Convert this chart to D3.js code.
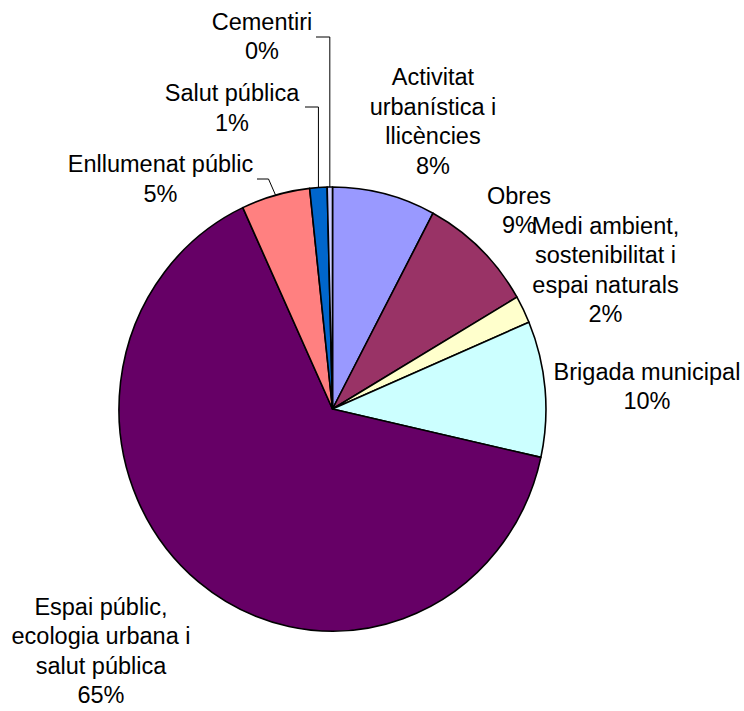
<!DOCTYPE html>
<html>
<head>
<meta charset="utf-8">
<script src="https://cdn.jsdelivr.net/npm/d3@7"></script>
<style>
  body { margin: 0; background: #fff; }
  svg text { font-family: "Liberation Sans", Arial, sans-serif; font-size: 23.5px; fill: #000; }
</style>
</head>
<body>
<svg width="744" height="711"></svg>
<script>
// data (percent of total)
var categories = ["Activitat urbanística i llicències", "Obres",
                  "Medi ambient, sostenibilitat i espai naturals", "Brigada municipal",
                  "Espai públic, ecologia urbana i salut pública", "Enllumenat públic",
                  "Salut pública", "Cementiri"];
var values = [7.8, 8.8, 2.0, 9.9, 64.6, 5.2, 1.3, 0.4];
var colors = ["#9999FF", "#993366", "#FFFFCC", "#CCFFFF", "#660066", "#FF8080", "#0066CC", "#CCCCFF"];

// how each label is wrapped into lines (last line is the percentage)
var labelLines = [
  ["Activitat", "urbanística i", "llicències"],
  ["Obres"],
  ["Medi ambient,", "sostenibilitat i", "espai naturals"],
  ["Brigada municipal"],
  ["Espai públic,", "ecologia urbana i", "salut pública"],
  ["Enllumenat públic"],
  ["Salut pública"],
  ["Cementiri"]
];

// layout: label centre x / first baseline y, and leader start (null = no leader)
var labelAt = [[433, 85], [519, 203.5], [605.5, 233.5], [647, 379.5],
               [101, 614.5], [160.5, 172], [232, 101], [262, 29.5]];
var leaderFrom = [null, null, null, null, null, [257, 179, 7], [305, 107, 0], [316, 37, 0]];

var svg = d3.select("svg"),
    cx = 332.5, cy = 409,
    rx = 213.5, ry = 222,
    lineH = 29.5;

var pie = d3.pie().sort(null).value(function(d) { return d; });
var arcs = pie(values);
var total = d3.sum(values);

var arc = d3.arc().innerRadius(0).outerRadius(1);

// slightly squashed pie like the original
var g = svg.append("g")
    .attr("transform", "translate(" + cx + "," + cy + ") scale(" + rx + "," + ry + ")");

g.selectAll("path")
  .data(arcs).enter()
  .append("path")
    .attr("d", arc)
    .attr("fill", function(d, i) { return colors[i]; })
    .attr("stroke", "#000")
    .attr("stroke-width", 1.6)
    .attr("vector-effect", "non-scaling-stroke")
    .attr("stroke-linejoin", "round");

function edgePoint(d) {
  var a = (d.startAngle + d.endAngle) / 2;
  return [cx + rx * Math.sin(a), cy - ry * Math.cos(a)];
}

// leader lines
arcs.forEach(function(d, i) {
  var lf = leaderFrom[i];
  if (!lf) return;
  var e = edgePoint(d);
  var pts = [[lf[0], lf[1]], [e[0] - lf[2], lf[1]], e];
  svg.append("path")
    .attr("d", d3.line()(pts))
    .attr("fill", "none")
    .attr("stroke", "#000")
    .attr("stroke-width", 1);
});

// labels
var labels = svg.append("g");
arcs.forEach(function(d, i) {
  var pct = Math.round(d.value / total * 100) + "%";
  var lines = labelLines[i].concat([pct]);
  var t = labels.append("text")
    .attr("text-anchor", "middle")
    .attr("x", labelAt[i][0])
    .attr("y", labelAt[i][1]);
  lines.forEach(function(s, k) {
    t.append("tspan")
      .attr("x", labelAt[i][0])
      .attr("y", labelAt[i][1] + k * lineH)
      .text(s);
  });
});
</script>
</body>
</html>
